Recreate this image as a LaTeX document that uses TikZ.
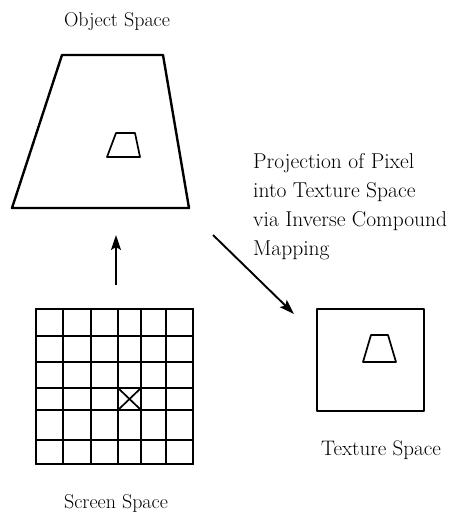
\documentclass[tikz,border=0pt]{standalone}
\usepackage{fontspec}
\usetikzlibrary{arrows.meta}
\begin{document}
\begin{tikzpicture}[x=1pt,y=-1pt,
  outline/.style={line width=2.4pt, line join=round},
  smalloutline/.style={line width=1.7pt, line join=round},
  gridline/.style={line width=2.2pt, line cap=round},
  lbl/.style={font=\fontsize{20}{24}\selectfont\addfontfeature{LetterSpace=2}, inner sep=0pt},
  widelbl/.style={font=\fontsize{21}{24}\selectfont\addfontfeature{LetterSpace=7}, inner sep=0pt},
  sidetext/.style={font=\fontsize{21.5}{29}\selectfont\addfontfeature{LetterSpace=12}, inner sep=0pt, align=left},
  conn/.style={line width=1.9pt, -{Stealth[length=15pt,width=10pt,inset=3pt]}}]
\useasboundingbox (0,0) rectangle (461,517);
% labels
\node[lbl, anchor=base] (objlbl) at (117,26) {Object Space};
\node[lbl, anchor=base] (scrlbl) at (116,508) {Screen Space};
\node[widelbl, anchor=base] (texlbl) at (381,455) {Texture Space};
\node[sidetext, anchor=north west] (proj) at (253,153) {Projection of Pixel\\into Texture Space\\via Inverse Compound\\Mapping};
% object space
\draw[outline] (62,55) -- (163,55) -- (189,208) -- (12,208) -- cycle;
\draw[smalloutline] (116,133) -- (135,133) -- (140,157) -- (107,157) -- cycle;
% screen space grid
\foreach \x in {36,63,91,118,141,166,193} \draw[gridline] (\x,309) -- (\x,464);
\foreach \y in {309,336,362,388,410,440,464} \draw[gridline] (36,\y) -- (193,\y);
\draw[smalloutline] (118,388) -- (141,410) (118,410) -- (141,388);
% texture space
\draw[outline] (317,309) rectangle (424,411);
\draw[smalloutline] (371,335) -- (388,335) -- (396,362) -- (363,362) -- cycle;
% connectors
\coordinate (upS) at (116,285);
\coordinate (upE) at (116,235);
\coordinate (dgS) at (213,235);
\coordinate (dgE) at (294,314);
\draw[conn] (upS) -- (upE);
\draw[conn] (dgS) -- (dgE);
\end{tikzpicture}
\end{document}
